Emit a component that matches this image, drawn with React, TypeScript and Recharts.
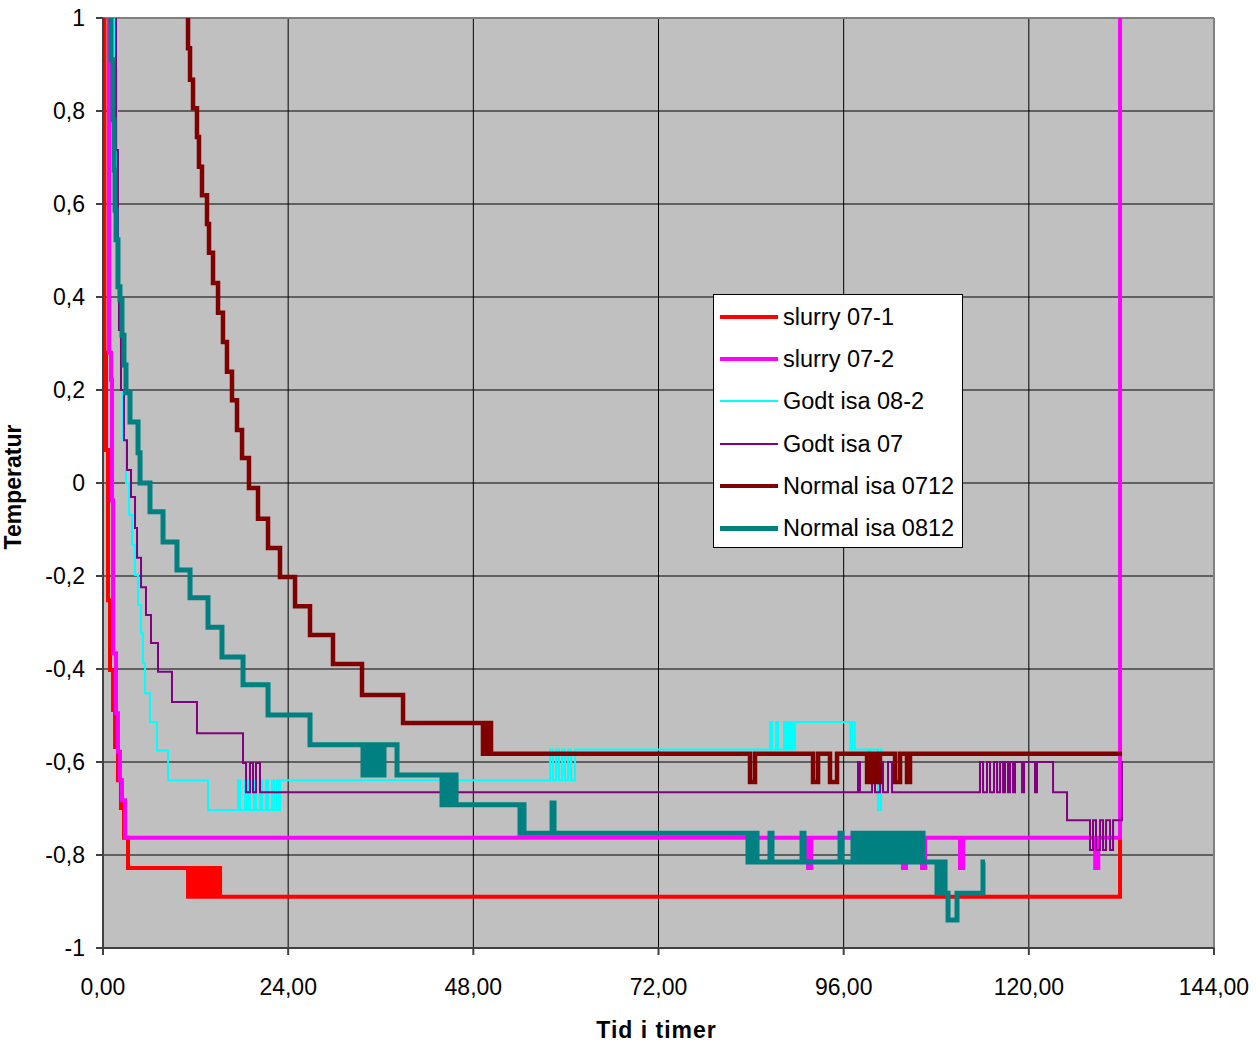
import React from 'react';
import { LineChart, Line, XAxis, YAxis, CartesianGrid, ReferenceLine, Legend } from 'recharts';

type P = { t: number; v: number };
const mk = (pairs: number[][]): P[] => pairs.map(([t, v]) => ({ t, v }));

const xTicks = [0, 24, 48, 72, 96, 120, 144];
const yTicks = [-1, -0.8, -0.6, -0.4, -0.2, 0, 0.2, 0.4, 0.6, 0.8, 1];

const slurry071 = mk([
  [0.06, 1.06], [0.19, 0.28], [0.39, 0.071], [0.65, -0.252], [0.91, -0.402], [1.3, -0.488],
  [1.56, -0.568], [1.94, -0.639], [2.33, -0.699], [2.72, -0.763], [3.24, -0.828],
  [11.02, -0.89], [11.41, -0.828], [11.67, -0.89], [12.05, -0.828], [12.44, -0.89], [12.7, -0.828],
  [13.09, -0.89], [13.35, -0.828], [13.74, -0.89], [14.13, -0.828], [14.52, -0.89], [14.91, -0.828],
  [15.17, -0.89], [131.82, -0.763], [131.95, -0.763],
]);

const slurry072 = mk([
  [0.65, 1.06], [0.78, 0.28], [1.04, 0.222], [1.17, -0.037], [1.3, -0.366], [1.69, -0.495],
  [1.94, -0.578], [2.2, -0.639], [2.46, -0.682], [2.85, -0.763],
  [91.38, -0.828], [91.77, -0.763], [103.69, -0.828], [104.08, -0.763], [106.16, -0.828], [106.55, -0.763],
  [111.08, -0.828], [111.47, -0.763], [128.6, -0.828], [129.0, -0.763],
  [131.82, 1.1], [131.95, 1.1],
]);

const godtIsa082 = mk([
  [1.43, 1.06], [1.56, 0.888], [1.81, 0.673], [1.94, 0.501], [2.07, 0.329], [2.33, 0.2], [2.59, 0.092],
  [2.98, 0.0], [3.37, -0.069], [3.76, -0.133], [4.15, -0.198], [4.54, -0.262], [4.93, -0.323],
  [5.18, -0.387], [5.44, -0.452], [6.09, -0.514], [7.0, -0.575], [8.43, -0.639], [13.61, -0.703],
  [17.5, -0.639], [17.76, -0.703], [18.41, -0.639], [18.54, -0.703], [18.79, -0.639], [19.05, -0.703],
  [19.57, -0.639], [19.83, -0.703], [20.35, -0.639], [20.61, -0.703], [21.13, -0.639], [21.39, -0.703],
  [21.91, -0.639], [22.16, -0.703], [22.55, -0.639], [22.81, -0.703], [22.94, -0.639],
  [57.94, -0.573], [58.33, -0.639], [58.72, -0.573], [59.11, -0.639], [59.49, -0.573], [59.88, -0.639],
  [60.27, -0.573], [60.66, -0.639], [61.18, -0.573],
  [86.45, -0.514], [86.71, -0.573], [87.23, -0.514], [87.49, -0.573], [88.27, -0.514], [88.53, -0.573],
  [88.79, -0.514], [89.05, -0.573], [89.31, -0.514], [89.57, -0.573], [89.7, -0.514],
  [96.82, -0.573], [97.08, -0.514], [97.47, -0.573],
  [99.16, -0.639], [99.42, -0.573], [100.45, -0.703], [100.84, -0.573], [101.1, -0.573],
]);

const godtIsa07 = mk([
  [1.56, 1.06], [1.69, 0.716], [1.94, 0.501], [2.07, 0.329], [2.33, 0.2], [2.72, 0.092], [3.11, 0.028],
  [3.63, -0.03], [4.15, -0.097], [4.41, -0.161], [4.93, -0.224], [5.57, -0.284], [6.22, -0.344],
  [7.13, -0.406], [8.94, -0.471], [12.18, -0.538], [18.15, -0.602],
  [18.54, -0.665], [19.05, -0.602], [19.44, -0.665], [19.83, -0.602], [20.35, -0.665],
  [97.86, -0.6], [98.12, -0.665], [99.68, -0.6], [100.06, -0.665], [100.71, -0.6], [101.1, -0.665],
  [101.75, -0.6], [102.27, -0.665],
  [113.67, -0.6], [114.06, -0.665], [114.58, -0.6], [114.97, -0.665], [115.49, -0.6], [115.88, -0.665],
  [116.27, -0.6], [116.66, -0.665], [116.91, -0.6], [117.3, -0.665], [117.56, -0.6], [117.95, -0.665],
  [118.21, -0.6], [119.12, -0.665], [119.38, -0.6], [120.8, -0.665], [121.06, -0.6],
  [123.14, -0.665], [124.95, -0.725],
  [127.93, -0.789], [128.32, -0.725], [128.71, -0.789], [129.23, -0.725], [129.62, -0.789],
  [130.01, -0.725], [130.53, -0.789], [130.92, -0.725],
  [132.08, -0.6], [132.21, -0.6],
]);

const normalIsa0712 = mk([
  [10.63, 1.06], [11.02, 0.935], [11.28, 0.867], [11.67, 0.806], [12.18, 0.744], [12.44, 0.68],
  [12.83, 0.619], [13.48, 0.557], [13.74, 0.495], [14.26, 0.43], [14.91, 0.366], [15.55, 0.303],
  [16.07, 0.239], [16.72, 0.178], [17.37, 0.114], [18.02, 0.054], [18.92, -0.011], [20.09, -0.077],
  [21.39, -0.14], [22.94, -0.202], [24.89, -0.265], [26.83, -0.327], [29.81, -0.389], [33.57, -0.456],
  [38.89, -0.516],
  [49.25, -0.582], [49.51, -0.516], [49.77, -0.582], [50.03, -0.516], [50.29, -0.582],
  [83.86, -0.643], [84.51, -0.582], [92.03, -0.643], [92.68, -0.582], [94.23, -0.643], [95.14, -0.582],
  [99.03, -0.643], [99.42, -0.582], [99.68, -0.643], [100.06, -0.582], [100.19, -0.643], [100.71, -0.582],
  [102.66, -0.643], [103.31, -0.582], [104.21, -0.643], [104.6, -0.582],
  [132.08, -0.582],
]);

const normalIsa0812 = mk([
  [0.91, 1.06], [1.04, 0.91], [1.3, 0.781], [1.43, 0.673], [1.56, 0.587], [1.69, 0.523], [1.94, 0.422],
  [2.2, 0.394], [2.46, 0.318], [2.72, 0.254], [2.98, 0.194], [3.5, 0.131], [4.54, 0.065], [4.8, 0.0],
  [6.09, -0.062], [7.78, -0.127], [9.59, -0.187], [11.28, -0.247], [13.61, -0.31], [15.42, -0.374],
  [18.15, -0.434], [21.39, -0.499], [26.83, -0.563],
  [33.7, -0.628], [34.09, -0.563], [34.35, -0.628], [34.74, -0.563], [35.13, -0.628], [35.65, -0.563],
  [35.9, -0.628], [36.42, -0.563], [38.11, -0.628],
  [43.94, -0.692], [44.33, -0.628], [44.59, -0.692], [44.98, -0.628], [45.24, -0.692], [45.63, -0.628],
  [45.76, -0.692],
  [54.05, -0.753], [54.31, -0.692], [54.57, -0.753], [58.2, -0.688], [58.46, -0.753],
  [83.6, -0.815], [83.86, -0.753], [84.12, -0.815], [84.51, -0.753], [84.77, -0.815],
  [86.45, -0.753], [86.71, -0.815], [90.6, -0.753], [90.86, -0.815], [95.53, -0.753], [95.79, -0.815],
  [97.21, -0.753], [97.47, -0.815],
  [98.12, -0.753], [98.38, -0.815], [98.64, -0.753], [98.9, -0.815], [99.16, -0.753], [99.42, -0.815],
  [99.68, -0.753], [99.94, -0.815], [100.19, -0.753], [100.45, -0.815], [100.71, -0.753], [100.97, -0.815],
  [101.23, -0.753], [101.49, -0.815], [101.75, -0.753], [102.01, -0.815], [102.27, -0.753], [102.53, -0.815],
  [102.92, -0.753], [103.18, -0.815], [103.43, -0.753], [103.69, -0.815], [104.08, -0.753], [104.34, -0.815],
  [104.73, -0.753], [104.99, -0.815], [105.38, -0.753], [105.64, -0.815], [106.03, -0.753], [106.29, -0.815],
  [108.1, -0.882], [108.36, -0.815], [108.62, -0.882], [108.88, -0.815], [109.14, -0.882],
  [109.53, -0.94], [110.69, -0.882], [114.06, -0.815], [114.32, -0.815],
]);

const seriesNames = ['slurry 07-1', 'slurry 07-2', 'Godt isa 08-2', 'Godt isa 07', 'Normal isa 0712', 'Normal isa 0812'];
const seriesColors = ['#FF0000', '#FF00FF', '#00FFFF', '#800080', '#800000', '#008080'];
const seriesWidths = [4, 4, 2, 2, 4.5, 5];
const seriesData = [slurry071, slurry072, godtIsa082, godtIsa07, normalIsa0712, normalIsa0812];

const FONT = '"Liberation Sans", Arial, sans-serif';

const fmtX = (v: number) => v.toFixed(2).replace('.', ',');
const fmtY = (v: number) => {
  const r = Math.round(v * 10) / 10;
  if (r === 0) return '0';
  return String(r).replace('.', ',');
};

const LegendBox = () => (
  <div
    style={{
      background: '#fff',
      border: '1px solid #000',
      width: 250,
      height: 254,
      boxSizing: 'border-box',
      paddingTop: 1,
      fontFamily: FONT,
      fontSize: 23.5,
      color: '#000',
    }}
  >
    {seriesNames.map((n, i) => (
      <div key={n} style={{ display: 'flex', alignItems: 'center', height: 42.2 }}>
        <div style={{ marginLeft: 6, width: 58, height: seriesWidths[i], background: seriesColors[i] }} />
        <span style={{ marginLeft: 5, whiteSpace: 'nowrap', lineHeight: '24px' }}>{n}</span>
      </div>
    ))}
  </div>
);

const YTitle = (props: any) => {
  const vb = props.viewBox || {};
  const cy = (vb.y || 0) + (vb.height || 0) / 2;
  return (
    <text x={21} y={cy + 4} transform={`rotate(-90, 21, ${cy + 4})`} textAnchor="middle" fontFamily={FONT} fontWeight="bold" fontSize={23} fill="#000">
      Temperatur
    </text>
  );
};

const XTitle = (props: any) => {
  const vb = props.viewBox || {};
  const cx = (vb.x || 0) + (vb.width || 0) / 2;
  return (
    <text x={cx - 2} y={1038} textAnchor="middle" fontFamily={FONT} fontWeight="bold" fontSize={23} letterSpacing={1} fill="#000">
      Tid i timer
    </text>
  );
};

export default function App() {
  return (
    <div style={{ position: 'absolute', left: 0, top: 0, width: 1256, height: 1043, background: '#fff' }}>
      <LineChart width={1256} height={1043} margin={{ top: 18, right: 42, bottom: 45, left: 0 }}>
        <CartesianGrid stroke="#000" strokeWidth={1} fill="#C0C0C0" fillOpacity={1} />
        <XAxis
          type="number"
          dataKey="t"
          domain={[0, 144]}
          ticks={xTicks}
          allowDataOverflow
          height={50}
          tickSize={7}
          tickMargin={24}
          tickFormatter={fmtX}
          stroke="#404040"
          strokeWidth={2}
          tick={{ fill: '#000', fontSize: 23, fontFamily: FONT }}
          label={<XTitle />}
        />
        <YAxis
          type="number"
          dataKey="v"
          domain={[-1, 1]}
          ticks={yTicks}
          allowDataOverflow
          width={103}
          tickSize={7}
          tickMargin={11}
          tickFormatter={fmtY}
          stroke="#404040"
          strokeWidth={2}
          tick={{ fill: '#000', fontSize: 23, fontFamily: FONT }}
          label={<YTitle />}
        />
        <ReferenceLine y={1} stroke="#808080" strokeWidth={2} ifOverflow="visible" />
        <ReferenceLine x={144} stroke="#808080" strokeWidth={2} ifOverflow="visible" />
        {seriesData.map((d, i) => (
          <Line
            key={seriesNames[i]}
            name={seriesNames[i]}
            data={d}
            dataKey="v"
            type="stepAfter"
            stroke={seriesColors[i]}
            strokeWidth={seriesWidths[i]}
            dot={false}
            activeDot={false}
            isAnimationActive={false}
          />
        ))}
        <Legend
          layout="vertical"
          align="center"
          verticalAlign="middle"
          content={<LegendBox />}
          wrapperStyle={{ left: 713, top: 294, width: 250, height: 255 }}
        />
      </LineChart>
    </div>
  );
}
